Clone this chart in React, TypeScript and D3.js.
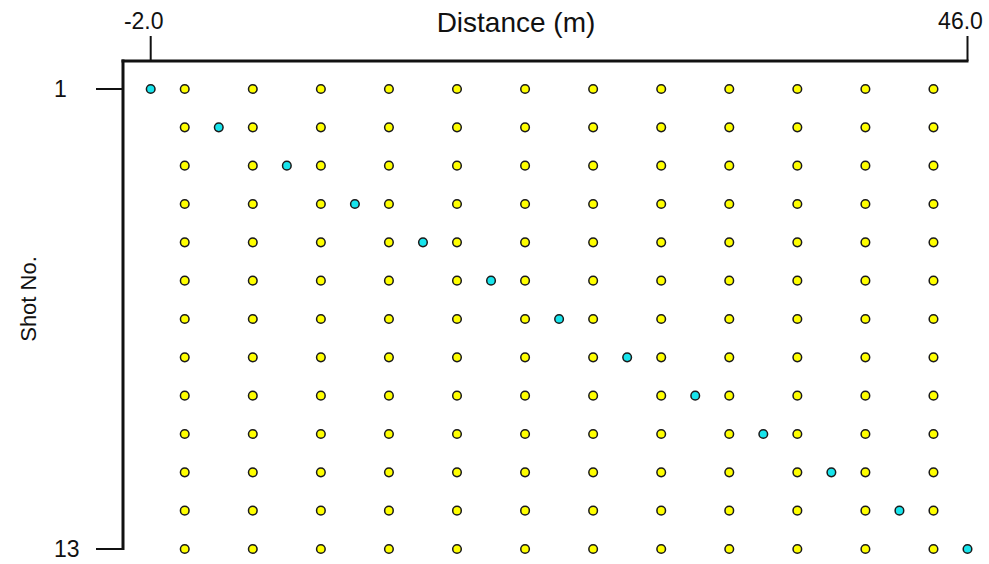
import React from "react";
import * as d3 from "d3";

// Survey geometry: source (shot) positions and receiver positions in metres
const shotNumbers = [1, 2, 3, 4, 5, 6, 7, 8, 9, 10, 11, 12, 13];
const shotPositions = [-2, 2, 6, 10, 14, 18, 22, 26, 30, 34, 38, 42, 46];
const receiverPositions = [0, 4, 8, 12, 16, 20, 24, 28, 32, 36, 40, 44];
const xTickValues = [-2, 46];
const yTickValues = [1, 13];

const W = 989;
const H = 564;
const FONT = "Arial, 'Liberation Sans', sans-serif";

// one decimal, plain hyphen for negatives
const fmtTick = (v: number) => d3.format(".1f")(v).replace("\u2212", "-");

export default function App() {
  const x = d3.scaleLinear().domain([-2, 46]).range([150.7, 967.5]);
  const y = d3.scaleLinear().domain([1, 13]).range([89, 549]);

  const axisX = 123;
  const axisY = 61;

  const receivers: { shot: number; pos: number }[] = [];
  shotNumbers.forEach((s) => {
    receiverPositions.forEach((p) => receivers.push({ shot: s, pos: p }));
  });

  return (
    <svg
      width={W}
      height={H}
      style={{ position: "absolute", left: 0, top: 0, background: "#fff" }}
    >
      {/* axis titles */}
      <text
        x={516}
        y={32}
        fontFamily={FONT}
        fontSize={28}
        textAnchor="middle"
        fill="#111"
      >
        Distance (m)
      </text>
      <text
        transform={`translate(36, ${(axisY + y(13)) / 2 - 6}) rotate(-90)`}
        fontFamily={FONT}
        fontSize={22}
        textAnchor="middle"
        fill="#111"
      >
        Shot No.
      </text>

      {/* frame */}
      <line
        x1={axisX - 1.5}
        x2={x(46) + 1}
        y1={axisY}
        y2={axisY}
        stroke="#111"
        strokeWidth={3}
      />
      <line
        x1={axisX}
        x2={axisX}
        y1={axisY - 1.5}
        y2={y(13) + 1}
        stroke="#111"
        strokeWidth={3}
      />

      {/* x ticks on top */}
      {xTickValues.map((v) => (
        <g key={"xt" + v}>
          <line
            x1={x(v)}
            x2={x(v)}
            y1={axisY}
            y2={axisY - 25}
            stroke="#111"
            strokeWidth={2}
          />
          <text
            x={x(v) - 7}
            y={29}
            fontFamily={FONT}
            fontSize={23}
            textAnchor="middle"
            fill="#111"
          >
            {fmtTick(v)}
          </text>
        </g>
      ))}

      {/* y ticks on left */}
      {yTickValues.map((v) => (
        <g key={"yt" + v}>
          <line
            x1={axisX}
            x2={axisX - 27}
            y1={y(v)}
            y2={y(v)}
            stroke="#111"
            strokeWidth={2}
          />
          <text
            x={54}
            y={y(v) + 8}
            fontFamily={FONT}
            fontSize={23}
            textAnchor="start"
            fill="#111"
          >
            {v}
          </text>
        </g>
      ))}

      {/* receivers */}
      {receivers.map((d, i) => (
        <circle
          key={"r" + i}
          cx={x(d.pos)}
          cy={y(d.shot)}
          r={4.3}
          fill="#ffff00"
          stroke="#1a1a1a"
          strokeWidth={1.5}
        />
      ))}

      {/* shots */}
      {shotNumbers.map((s, i) => (
        <circle
          key={"s" + s}
          cx={x(shotPositions[i])}
          cy={y(s)}
          r={4.3}
          fill="#18e4ec"
          stroke="#1a1a1a"
          strokeWidth={1.5}
        />
      ))}
    </svg>
  );
}
